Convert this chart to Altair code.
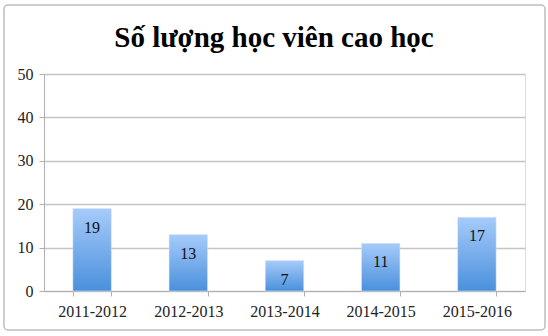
import altair as alt
import pandas as pd

years = ["2011-2012", "2012-2013", "2013-2014", "2014-2015", "2015-2016"]
counts = [19, 13, 7, 11, 17]
title_text = "Số lượng học viên cao học"

df = pd.DataFrame({"year": years, "count": counts})

FONT = "Liberation Serif"

base = alt.Chart(df)

x_enc = alt.X("year:N", sort=years, title=None,
              scale=alt.Scale(paddingInner=0.6, paddingOuter=0.3),
              axis=alt.Axis(labelAngle=0, labelFont=FONT, labelFontSize=16,
                            labelColor="#222", labelPadding=7,
                            domainColor="#b0b0b0", tickColor="#b0b0b0",
                            tickSize=5, tickBand="extent", grid=False))
y_enc = alt.Y("count:Q", title=None,
              scale=alt.Scale(domain=[0, 50]),
              axis=alt.Axis(values=[0, 10, 20, 30, 40, 50], labelFont=FONT,
                            labelFontSize=16, labelColor="#222", labelPadding=6,
                            domainColor="#b0b0b0", tickColor="#b0b0b0",
                            tickSize=5, gridColor="#c4c4c4", gridWidth=1.5))

bars = base.mark_bar(
    color=alt.Gradient(
        gradient="linear", x1=0, x2=0, y1=0, y2=1,
        stops=[alt.GradientStop(color="#a6cbfa", offset=0),
               alt.GradientStop(color="#4a90dc", offset=1)]),
    stroke="#dde9f8", strokeWidth=0.5,
).encode(x=x_enc, y=y_enc)

labels = base.mark_text(font=FONT, fontSize=16, color="#111", dy=19,
                        baseline="middle").encode(
    x=alt.X("year:N", sort=years), y="count:Q", text="count:Q")

single = alt.Chart(pd.DataFrame({"t": [title_text]}))

border = single.mark_rect(
    fill=None, stroke="#bdbdbd", strokeWidth=1.5, cornerRadius=4
).encode(x=alt.value(-40), x2=alt.value(501), y=alt.value(-69), y2=alt.value(256))

title = single.mark_text(font=FONT, fontSize=29, fontWeight="bold", color="#000",
                         align="center", baseline="alphabetic").encode(
    x=alt.value(230), y=alt.value(-27), text="t:N")

chart = alt.layer(border, bars, labels, title).properties(
    width=481, height=217,
    autosize=alt.AutoSizeParams(type="none"),
    padding={"left": 44, "top": 74, "right": 23, "bottom": 45},
).configure_view(stroke=None).configure(background="white")

chart.save("out.html", embed_options={"renderer": "svg", "actions": False})
